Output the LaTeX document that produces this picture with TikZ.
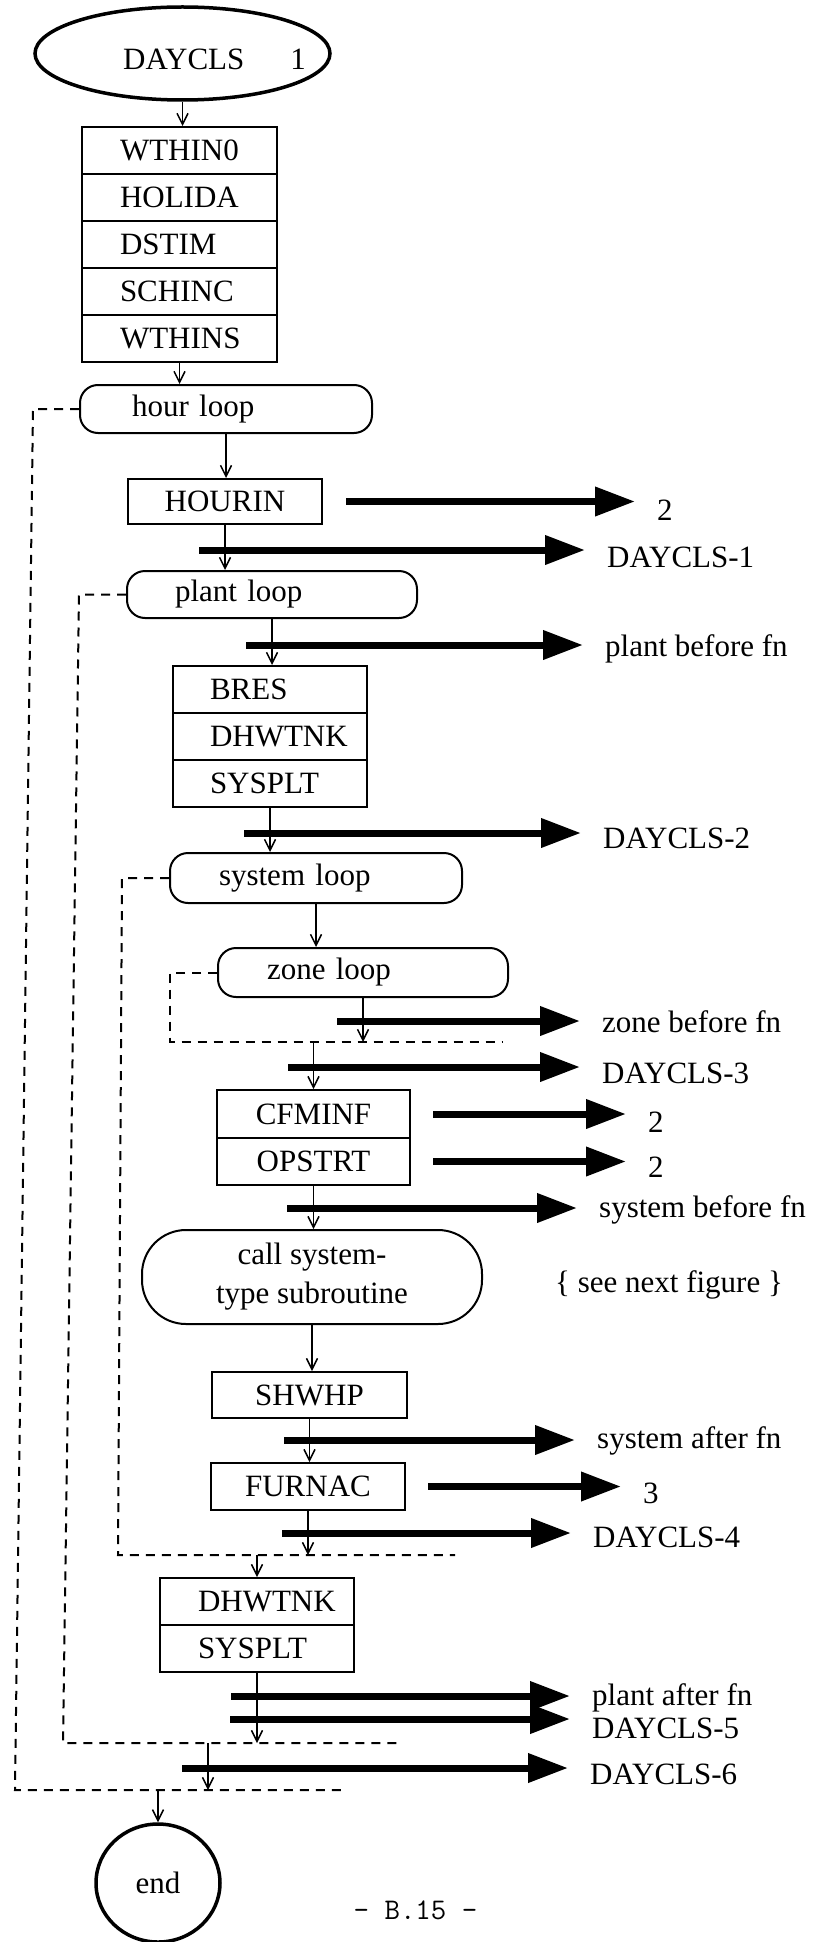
\documentclass[tikz,border=0pt]{standalone}
\usepackage{fontspec}
\setmainfont{Liberation Serif}
\usetikzlibrary{arrows.meta,shapes.geometric}
\begin{document}
\begin{tikzpicture}[x=1pt,y=-1pt,
  every node/.style={font=\fontsize{31}{39}\selectfont},
  termell/.style={draw, ellipse, line width=3.5pt, inner sep=0pt},
  topRow/.style={draw, line width=2pt, minimum width=195pt, minimum height=47pt, text width=119pt, inner xsep=38pt, inner ysep=0pt, align=left},
  bresRow/.style={draw, line width=2pt, minimum width=194pt, minimum height=47pt, text width=120pt, inner xsep=37pt, inner ysep=0pt, align=left},
  botRow/.style={draw, line width=2pt, minimum width=194pt, minimum height=47pt, text width=118pt, inner xsep=38pt, inner ysep=0pt, align=left},
  cbox/.style={draw, line width=2pt, inner sep=0pt, align=center},
  loopbox/.style={draw, line width=2pt, rounded corners=18pt, inner ysep=0pt, align=left},
  lbl/.style={anchor=west, inner sep=0pt, text height=21pt, text depth=0pt},
  thin/.style={line width=1.5pt, -{Straight Barb[length=11pt,width=11pt,line width=1.5pt]}},
  fat/.style={line width=7pt, -{Triangle[length=40pt,width=28pt]}, shorten >=22pt},
  dashloop/.style={line width=2pt, dash pattern=on 9pt off 7pt}
]
\fill[white] (0,0) rectangle (814,1942);
\useasboundingbox (0,0) rectangle (814,1942);

% ---- start ellipse ----
\node[termell, minimum width=295pt, minimum height=93pt] (start) at (182.5,53.5) {};
\node[anchor=base west, inner sep=0pt] (starttxt) at (123,70) {DAYCLS\hspace{46pt}1};

% ---- top stack ----
\node[topRow] (r1) at (179.5,150.5) {WTHIN0};
\node[topRow] (r2) at (179.5,197.5) {HOLIDA};
\node[topRow] (r3) at (179.5,244.5) {DSTIM};
\node[topRow] (r4) at (179.5,291.5) {SCHINC};
\node[topRow] (r5) at (179.5,338.5) {WTHINS};

% ---- hour loop ----
\node[loopbox, minimum height=48pt, text width=188pt, inner xsep=52pt] (hour) at (226,409) {hour loop};
\node[cbox, minimum width=194pt, minimum height=45pt] (hourin) at (225,501.5) {HOURIN};

% ---- plant loop ----
\node[loopbox, minimum height=47pt, text width=194pt, inner xsep=48pt] (plant) at (272,594.5) {plant loop};
\node[bresRow] (b1) at (270,689.5) {BRES};
\node[bresRow] (b2) at (270,736.5) {DHWTNK};
\node[bresRow] (b3) at (270,783.5) {SYSPLT};

% ---- system loop ----
\node[loopbox, minimum height=50pt, text width=194pt, inner xsep=49pt] (sys) at (316,878) {system loop};
\node[loopbox, minimum height=49pt, text width=192pt, inner xsep=49pt] (zone) at (363,972.5) {zone loop};

\node[cbox, minimum width=193pt, minimum height=48pt] (cf) at (313.5,1114) {CFMINF};
\node[cbox, minimum width=193pt, minimum height=47pt] (op) at (313.5,1161.5) {OPSTRT};
\node[cbox, rounded corners=44pt, minimum width=340pt, minimum height=94pt] (call) at (312,1277) {call system-\\type subroutine};
\node[cbox, minimum width=195pt, minimum height=46pt] (shwhp) at (309.5,1395) {SHWHP};
\node[cbox, minimum width=194pt, minimum height=47pt] (furnac) at (308,1486.5) {FURNAC};

\node[botRow] (dh2) at (257,1601.5) {DHWTNK};
\node[botRow] (sp2) at (257,1648.5) {SYSPLT};

% ---- end ----
\node[termell, minimum width=124pt, minimum height=118pt] (end) at (158,1883) {end};
\node[inner sep=0pt, font=\fontsize{30}{34}\ttfamily] (page) at (415.5,1910) {- B.15 -};

% ---- side labels ----
\node[lbl] (l1) at (657,510) {2};
\node[lbl] (l2) at (607,557) {DAYCLS-1};
\node[lbl] (l3) at (605,646) {plant before fn};
\node[lbl] (l4) at (603,838) {DAYCLS-2};
\node[lbl] (l5) at (602,1022) {zone before fn};
\node[lbl] (l6) at (602,1073) {DAYCLS-3};
\node[lbl] (l7) at (648,1122) {2};
\node[lbl] (l8) at (648,1167) {2};
\node[lbl] (l9) at (599,1207) {system before fn};
\node[lbl] (see) at (555,1282) {\{ see next figure \}};
\node[lbl] (l10) at (597,1438) {system after fn};
\node[lbl] (l11) at (643,1493) {3};
\node[lbl] (l12) at (593,1537) {DAYCLS-4};
\node[lbl] (l13) at (592,1695) {plant after fn};
\node[lbl] (l14) at (592,1728) {DAYCLS-5};
\node[lbl] (l15) at (590,1774) {DAYCLS-6};

% ---- dashed loop returns ----
\coordinate (hA) at (33,409);   \coordinate (hB) at (15,1790);   \coordinate (hC) at (347,1790);
\coordinate (pA) at (79,594.5); \coordinate (pB) at (63,1743);   \coordinate (pC) at (401,1743);
\coordinate (sA) at (122,878);  \coordinate (sB) at (118,1555);  \coordinate (sC) at (455,1555);
\coordinate (zA) at (170,972.5);\coordinate (zB) at (170,1042);  \coordinate (zC) at (502,1042);
\draw[dashloop] (hour.west) -- (hA) -- (hB) -- (hC);
\draw[dashloop] (plant.west) -- (pA) -- (pB) -- (pC);
\draw[dashloop] (sys.west) -- (sA) -- (sB) -- (sC);
\draw[dashloop] (zone.west) -- (zA) -- (zB) -- (zC);

% ---- fat output arrows ----
\coordinate (f2) at (199,550);
\coordinate (f3) at (246,645);
\coordinate (f4) at (244,833);
\coordinate (f5) at (337,1021);
\coordinate (f6) at (288,1067);
\coordinate (f9) at (287,1208);
\coordinate (f10) at (284,1440);
\coordinate (f12) at (282,1533);
\coordinate (f13) at (231,1696);
\coordinate (f14) at (230,1719);
\coordinate (f15) at (182,1768);
\draw[fat, shorten <=23pt] (hourin.east) -- (hourin.east -| l1.west);
\draw[fat] (f2) -- (f2 -| l2.west);
\draw[fat] (f3) -- (f3 -| l3.west);
\draw[fat] (f4) -- (f4 -| l4.west);
\draw[fat] (f5) -- (f5 -| l5.west);
\draw[fat] (f6) -- (f6 -| l6.west);
\draw[fat, shorten <=22pt] (cf.east) -- (cf.east -| l7.west);
\draw[fat, shorten <=22pt] (op.east) -- (op.east -| l8.west);
\draw[fat] (f9) -- (f9 -| l9.west);
\draw[fat] (f10) -- (f10 -| l10.west);
\draw[fat, shorten <=22pt] (furnac.east) -- (furnac.east -| l11.west);
\draw[fat] (f12) -- (f12 -| l12.west);
\draw[fat] (f13) -- (f13 -| l13.west);
\draw[fat] (f14) -- (f14 -| l14.west);
\draw[fat] (f15) -- (f15 -| l15.west);

% ---- thin flow arrows ----
\draw[thin] (start.south) -- (start.south |- r1.north);
\draw[thin] (r5.south) -- (r5.south |- hour.north);
\draw[thin] (hour.south) -- (hour.south |- hourin.north);
\draw[thin] (hourin.south) -- (hourin.south |- plant.north);
\draw[thin] (plant.south) -- (plant.south |- b1.north);
\draw[thin] (b3.south) -- (b3.south |- sys.north);
\draw[thin] (sys.south) -- (sys.south |- zone.north);
\draw[thin] (zone.south) -- (zone.south |- zB);
\draw[thin] (cf.north |- zB) -- (cf.north);
\draw[thin] (op.south) -- (op.south |- call.north);
\draw[thin] (call.south) -- (call.south |- shwhp.north);
\draw[thin] (shwhp.south) -- (shwhp.south |- furnac.north);
\draw[thin] (furnac.south) -- (furnac.south |- sB);
\draw[thin] (dh2.north |- sB) -- (dh2.north);
\draw[thin] (sp2.south) -- (sp2.south |- pB);
\coordinate (pm) at (208,1743);
\draw[thin] (pm) -- (pm |- hB);
\draw[thin] (end.north |- hB) -- (end.north);
\end{tikzpicture}
\end{document}
